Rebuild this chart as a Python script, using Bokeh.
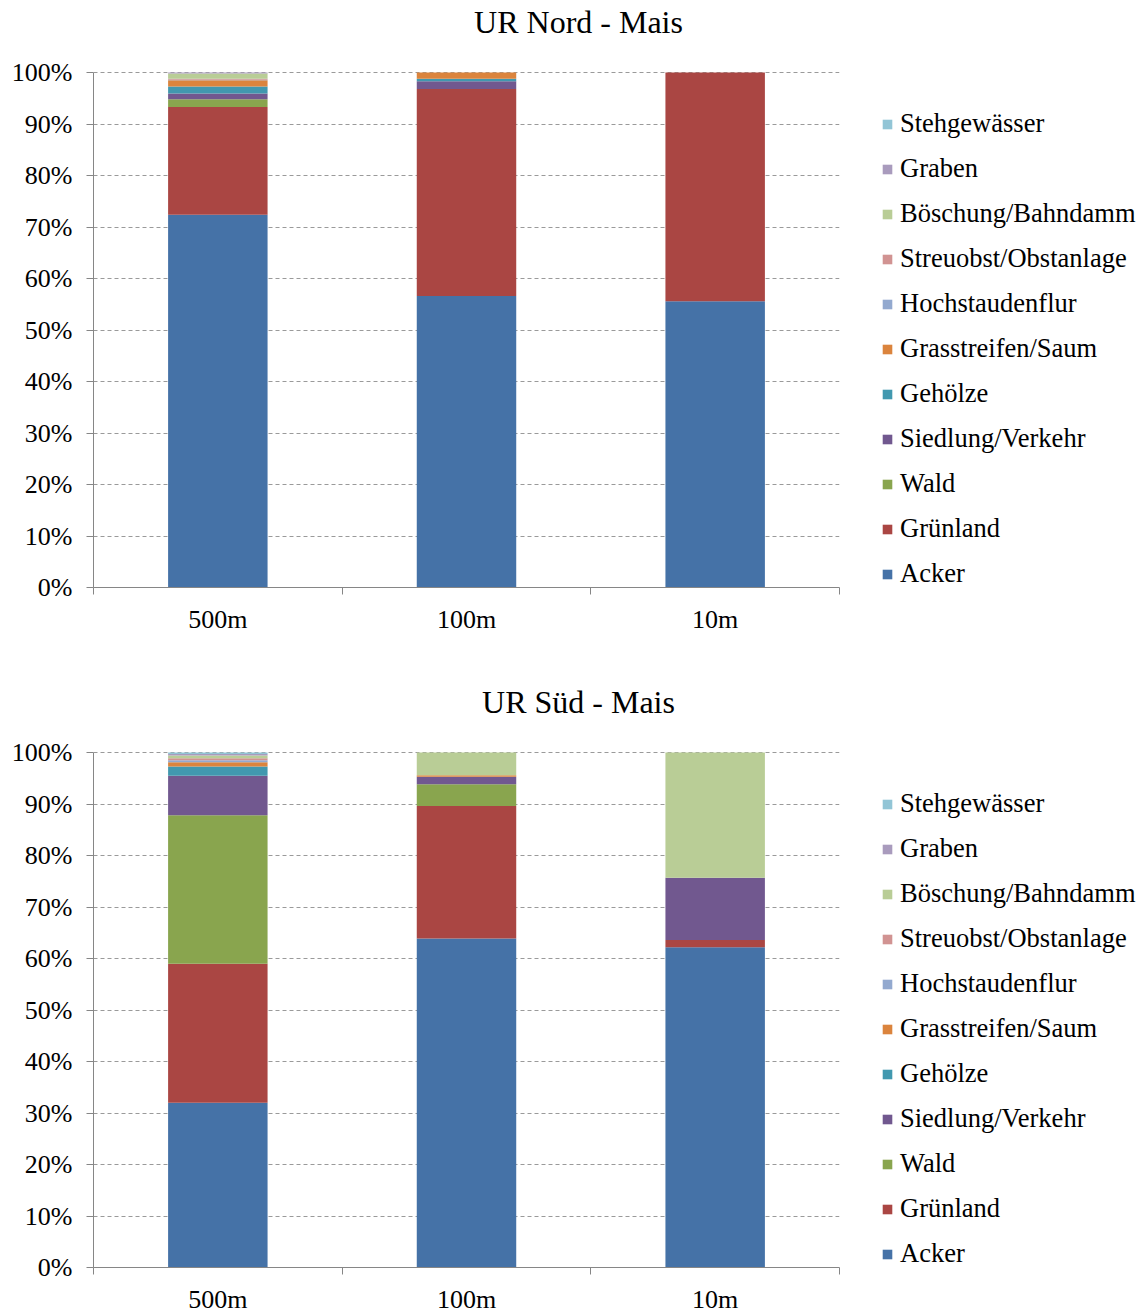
from bokeh.plotting import figure
from bokeh.models import (ColumnDataSource, FixedTicker, Legend, LegendItem, Label, Range1d)
from bokeh.layouts import column
from bokeh.embed import file_html
from bokeh.resources import INLINE

categories = ["500m", "100m", "10m"]
classes = ["Acker", "Grünland", "Wald", "Siedlung/Verkehr", "Gehölze",
           "Grasstreifen/Saum", "Hochstaudenflur", "Streuobst/Obstanlage",
           "Böschung/Bahndamm", "Graben", "Stehgewässer"]
colors = ["#4572A7", "#AA4643", "#89A54E", "#71588F", "#4198AF", "#DB843D",
          "#93A9CF", "#D19392", "#B9CD96", "#A99BBD", "#92C5D6"]
y_ticks = [0, 10, 20, 30, 40, 50, 60, 70, 80, 90, 100]
y_tick_labels = ["0%", "10%", "20%", "30%", "40%", "50%", "60%", "70%", "80%", "90%", "100%"]

# values in percent, per category (500m, 100m, 10m)
nord_acker = [72.4, 56.6, 55.6]
nord_gruenland = [20.9, 40.2, 44.4]
nord_wald = [1.5, 0.0, 0.0]
nord_siedlung = [1.1, 1.5, 0.0]
nord_gehoelze = [1.4, 0.5, 0.0]
nord_grasstreifen = [1.2, 1.2, 0.0]
nord_hochstauden = [0.1, 0.0, 0.0]
nord_streuobst = [0.2, 0.0, 0.0]
nord_boeschung = [1.0, 0.0, 0.0]
nord_graben = [0.2, 0.0, 0.0]
nord_stehgewaesser = [0.0, 0.0, 0.0]

sued_acker = [32.0, 63.9, 62.2]
sued_gruenland = [27.0, 25.7, 1.4]
sued_wald = [28.8, 4.25, 0.0]
sued_siedlung = [7.7, 1.45, 12.1]
sued_gehoelze = [1.8, 0.0, 0.0]
sued_grasstreifen = [0.8, 0.3, 0.0]
sued_hochstauden = [0.4, 0.0, 0.0]
sued_streuobst = [0.4, 0.0, 0.0]
sued_boeschung = [0.5, 4.4, 24.3]
sued_graben = [0.3, 0.0, 0.0]
sued_stehgewaesser = [0.3, 0.0, 0.0]

nord = [nord_acker, nord_gruenland, nord_wald, nord_siedlung, nord_gehoelze,
        nord_grasstreifen, nord_hochstauden, nord_streuobst, nord_boeschung,
        nord_graben, nord_stehgewaesser]
sued = [sued_acker, sued_gruenland, sued_wald, sued_siedlung, sued_gehoelze,
        sued_grasstreifen, sued_hochstauden, sued_streuobst, sued_boeschung,
        sued_graben, sued_stehgewaesser]

FONT = "Liberation Serif"
PLOT_H = 515      # pixel height of the 0-100 % area
FRAME_H = 587     # frame extends above 100 % to hold the title


def make_chart(title, series, bottom_border):
    ytop = 100.0 * FRAME_H / PLOT_H
    p = figure(frame_width=746, frame_height=FRAME_H, output_backend="svg",
               toolbar_location=None,
               x_range=Range1d(0, 3), y_range=Range1d(0, ytop),
               min_border_left=93, min_border_right=300, min_border_top=0,
               min_border_bottom=bottom_border)
    p.outline_line_color = None
    p.background_fill_color = "white"
    p.border_fill_color = "white"

    xs = [i + 0.5 for i in range(len(categories))]
    data = {"x": xs}
    keys = []
    for i, vals in enumerate(series):
        k = "s%d" % i
        data[k] = vals
        keys.append(k)
    src = ColumnDataSource(data)
    rends = p.vbar_stack(keys, x="x", width=0.4, source=src, color=colors,
                         line_color=None)

    # axes
    p.xaxis.ticker = FixedTicker(ticks=xs, minor_ticks=[0, 1, 2, 3])
    p.xaxis.major_label_overrides = {x: c for x, c in zip(xs, categories)}
    p.xaxis.major_tick_line_color = None
    p.xaxis.minor_tick_in = 0
    p.xaxis.minor_tick_out = 7
    p.xaxis.minor_tick_line_color = "#868686"
    p.xaxis.axis_line_color = "#868686"
    p.xaxis.major_label_text_font = FONT
    p.xaxis.major_label_text_font_size = "26px"
    p.xaxis.major_label_text_color = "#000000"
    p.xaxis.major_label_standoff = 10

    p.yaxis.bounds = (0, 100)
    p.yaxis.ticker = FixedTicker(ticks=y_ticks, minor_ticks=[])
    p.yaxis.major_label_overrides = dict(zip(y_ticks, y_tick_labels))
    p.yaxis.major_tick_in = 0
    p.yaxis.major_tick_out = 7
    p.yaxis.major_tick_line_color = "#868686"
    p.yaxis.axis_line_color = "#868686"
    p.yaxis.major_label_text_font = FONT
    p.yaxis.major_label_text_font_size = "26px"
    p.yaxis.major_label_text_color = "#000000"
    p.yaxis.major_label_standoff = 14

    p.xgrid.grid_line_color = None
    p.ygrid.ticker = FixedTicker(ticks=y_ticks[1:])
    p.ygrid.grid_line_color = "#9a9a9a"
    p.ygrid.grid_line_dash = "4 3"
    p.ygrid.grid_line_width = 1

    items = [LegendItem(label=classes[i], renderers=[rends[i]])
             for i in range(len(classes) - 1, -1, -1)]
    legend = Legend(items=items, location=(42, -2), orientation="vertical",
                    glyph_width=12, glyph_height=12, label_standoff=7,
                    spacing=14, padding=0, margin=0,
                    label_text_font=FONT, label_text_font_size="26.5px",
                    label_text_color="#000000",
                    border_line_color=None, background_fill_alpha=0)
    p.add_layout(legend, "right")

    lab = Label(x=485, y=FRAME_H - 21, x_units="screen", y_units="screen",
                text=title, text_font=FONT, text_font_size="32px",
                text_align="center", text_baseline="middle", text_color="#000000")
    p.add_layout(lab)
    return p


p1 = make_chart("UR Nord - Mais", nord, 93)
p2 = make_chart("UR Süd - Mais", sued, 46)
layout = column(p1, p2, spacing=0)

open("out.html", "w").write(file_html(layout, INLINE))
